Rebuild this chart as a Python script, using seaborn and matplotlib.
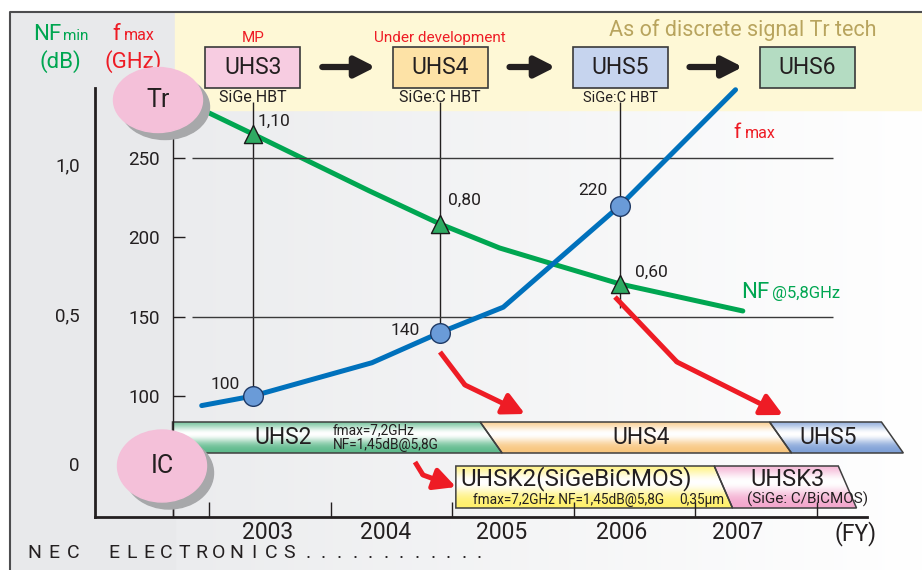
import numpy as np
import seaborn as sns
import matplotlib.pyplot as plt
import matplotlib.colors as mcolors
from matplotlib.patches import Ellipse, Rectangle, Polygon
from matplotlib.transforms import blended_transform_factory

# =========================
# DATA
# =========================
fmax_year = [2002.94, 2003.36, 2004.34, 2004.90, 2005.42, 2006.38, 2007.33]
fmax_ghz = [94, 100, 121, 140, 156, 220, 293]
nf_year = [2002.95, 2003.36, 2004.32, 2004.90, 2005.39, 2005.80, 2006.38, 2007.39]
nf_db = [1.18, 1.10, 0.91, 0.80, 0.72, 0.67, 0.60, 0.51]

point_year = [2003.36, 2004.90, 2006.38]
point_fmax = [100, 140, 220]
point_nf = [1.10, 0.80, 0.60]
point_fmax_txt = ['100', '140', '220']
point_nf_txt = ['1,10', '0,80', '0,60']

tr_names = ['UHS3', 'UHS4', 'UHS5', 'UHS6']
tr_year = [2003.36, 2004.90, 2006.38, 2007.92]
tr_status = ['MP', 'Under development', '', '']
tr_process = ['SiGe HBT', 'SiGe:C HBT', 'SiGe:C HBT', '']
tr_colors = ['#f7cce1', '#fde2a6', '#c6d4ee', '#b4dcc2']

ic1_names = ['UHS2', 'UHS4', 'UHS5']
ic1_edges = [2002.70, 2005.32, 2007.70, 2008.62]
ic1_colors = ['#5cb98a', '#f8c57c', '#7d9fd6']
ic2_names = ['UHSK2(SiGeBiCMOS)', 'UHSK3']
ic2_edges = [2005.03, 2007.23, 2008.25]
ic2_colors = ['#fff06a', '#f3a7cd']

fy_labels = ['2003', '2004', '2005', '2006', '2007', '(FY)']
fmax_ticks = [100, 150, 200, 250]
nf_ticks = [0, 0.5, 1.0]
nf_tick_labels = ['0', '0,5', '1,0']

# =========================
# STYLE
# =========================
sns.set_theme(style="white")
plt.rcParams['font.family'] = ['Roboto', 'DejaVu Sans']

GREEN = '#00a651'
RED = '#ee1c25'
BLUE = '#0071bc'
DARK = '#231f20'

W, H = 922, 570
PX_PER_YEAR = 121.6
X0_PX, X0_YEAR = 209, 2003.0


def year_of(px):
    return X0_YEAR + (px - X0_PX) / PX_PER_YEAR


def px_rect(l, t, r, b):
    return [l / W, 1 - b / H, (r - l) / W, (b - t) / H]


fig = plt.figure(figsize=(W / 100, H / 100), dpi=100)

# background / decoration layer in pixel coords
bg = fig.add_axes([0, 0, 1, 1], zorder=0)
bg.set_xlim(0, W)
bg.set_ylim(H, 0)
bg.set_autoscale_on(False)
bg.axis('off')

# data axes: NF (left, outer) and fmax (inner)
ax = fig.add_axes(px_rect(95, 88, 867, 517), zorder=1)
ax.set_xlim(year_of(95), year_of(867))
ax.set_ylim(-0.1767, 1.2533)
ax.patch.set_visible(False)
ax_f = ax.twinx()
ax_f.set_zorder(2)
ax_f.set_ylim(23.8, 294.1)
ax_f.patch.set_visible(False)

fg = fig.add_axes([0, 0, 1, 1], zorder=3)
fg.set_xlim(0, W)
fg.set_ylim(H, 0)
fg.set_autoscale_on(False)
fg.axis('off')
fg.patch.set_visible(False)

bx = blended_transform_factory(ax.transData, bg.transData)

# =========================
# Background
# =========================
g = np.linspace(0, 1, 256)[None, :, None]
c0 = np.array(mcolors.to_rgb('#ebecee'))
bg.imshow(c0 * (1 - g) + g, extent=(175, W, H, 110), aspect='auto', zorder=0)
bg.add_patch(Rectangle((10, 12), 165, H - 12, color='#e8e9eb', zorder=0.5))
bg.add_patch(Rectangle((175, 12), W - 175, 98, color='#fef8d6', zorder=0.6))
bg.plot([10, 10, W], [H, 12, 12], color='#4d4d4f', lw=1.5, zorder=1)

# axis titles
bg.text(33, 40, 'NF', color=GREEN, fontsize=16, va='baseline')
bg.text(63, 40, 'min', color=GREEN, fontsize=11, va='baseline')
bg.text(60, 62, '(dB)', color=GREEN, fontsize=16, ha='center', va='center')
bg.text(112, 40, 'f', color=RED, fontsize=16, va='baseline')
bg.text(124, 40, 'max', color=RED, fontsize=11.5, va='baseline')
bg.text(133, 62, '(GHz)', color=RED, fontsize=16, ha='center', va='center')
bg.text(743, 30, 'As of discrete signal Tr tech', color='#b8a45e', fontsize=15.5,
        ha='center', va='center')

# =========================
# Tr generation boxes
# =========================
box_w = 95 / PX_PER_YEAR
for i, (name, yr, st, proc, col) in enumerate(zip(tr_names, tr_year, tr_status, tr_process, tr_colors)):
    bg.add_patch(Rectangle((yr - box_w / 2, 47), box_w, 41, facecolor=col, edgecolor='#3a3a3a',
                           lw=1.2, transform=bx, zorder=3, clip_on=False))
    bg.text(yr, 68, name, transform=bx, ha='center', va='center', fontsize=16.5, color=DARK, zorder=4)
    if st:
        bg.text(yr, 38, st, transform=bx, ha='center', va='center', fontsize=11, color=RED, zorder=4)
    if proc:
        bg.text(yr, 98, proc, transform=bx, ha='center', va='center',
                fontsize=11.5 if i < 2 else 10.5, color=DARK, zorder=4)
    if i < len(tr_names) - 1:
        start = yr + box_w / 2 + 22 / PX_PER_YEAR
        end = tr_year[i + 1] - box_w / 2 - 17 / PX_PER_YEAR
        bg.annotate('', xy=(end, 67), xytext=(start, 67), xycoords=bx, textcoords=bx,
                    arrowprops=dict(arrowstyle='-|>,head_length=0.55,head_width=0.28', lw=4.5,
                                    color=DARK, mutation_scale=22, shrinkA=0, shrinkB=0),
                    zorder=4)


# =========================
# IC roadmap bars
# =========================
def grad_bar(verts, color):
    poly = Polygon(verts, closed=True, facecolor='none', edgecolor='#3f3f3f', lw=1.1,
                   transform=bx, zorder=3.2, clip_on=False)
    bg.add_patch(poly)
    c = np.array(mcolors.to_rgb(color))
    t = np.linspace(0, 1, 64)[:, None, None]
    w = np.exp(-((t - 0.38) / 0.3) ** 2)
    img = w * 1.0 + (1 - w) * c
    xs = [v[0] for v in verts]
    ys = [v[1] for v in verts]
    im = bg.imshow(img, extent=(min(xs), max(xs), max(ys), min(ys)), transform=bx,
                   aspect='auto', zorder=3, interpolation='bilinear')
    im.set_clip_path(poly)


def draw_row(edges, colors, top, bot, slant):
    for i, col in enumerate(colors):
        x0, x1 = edges[i], edges[i + 1]
        l_top = x0 if i == 0 else x0 - slant
        l_bot = x0 if i == 0 else x0 + slant
        grad_bar([(l_top, top), (x1 - slant, top), (x1 + slant, bot), (l_bot, bot)], col)


draw_row(ic1_edges, ic1_colors, 422, 453, 0.09)
draw_row(ic2_edges, ic2_colors, 466, 508, 0.075)

bg.text(283, 437, ic1_names[0], ha='center', va='center', fontsize=16.5, color=DARK, zorder=5)
bg.text(333, 430, 'fmax=7,2GHz', ha='left', va='center', fontsize=9.8, color=DARK, zorder=5)
bg.text(333, 445, 'NF=1,45dB@5,8G', ha='left', va='center', fontsize=9.8, color=DARK, zorder=5)
bg.text(641, 437, ic1_names[1], ha='center', va='center', fontsize=16.5, color=DARK, zorder=5)
bg.text(828, 437, ic1_names[2], ha='center', va='center', fontsize=16.5, color=DARK, zorder=5)
bg.text(576, 479, ic2_names[0], ha='center', va='center', fontsize=17.5, color=DARK, zorder=5)
bg.text(473, 500, 'fmax=7,2GHz NF=1,45dB@5,8G', ha='left', va='center', fontsize=9.8,
        color=DARK, zorder=5)
bg.text(679, 500, '0,35μm', ha='left', va='center', fontsize=9.8, color=DARK, zorder=5)
bg.text(787, 479, ic2_names[1], ha='center', va='center', fontsize=17, color=DARK, zorder=5)
bg.text(808, 499, '(SiGe: C/BiCMOS)', ha='center', va='center', fontsize=11, color=DARK, zorder=5)

# =========================
# Data lines
# =========================
def to_nf(f):
    return np.interp(f, ax_f.get_ylim(), ax.get_ylim())


ax_f.hlines([150, 250], year_of(192), year_of(833), color='#3a3a3a', lw=1, zorder=1)
ax.vlines(point_year, [to_nf(100), to_nf(140), 0.52], to_nf(285), color=DARK, lw=1, zorder=1)

sns.lineplot(x=nf_year, y=nf_db, ax=ax, color=GREEN, linewidth=3.6, legend=False,
             zorder=2, clip_on=False)
sns.scatterplot(x=point_year, y=point_nf, ax=ax, marker='^', s=170, color='#2eaa62',
                edgecolor='#1a1a1a', linewidth=1, legend=False, zorder=4, clip_on=False)
sns.lineplot(x=fmax_year, y=fmax_ghz, ax=ax_f, color=BLUE, linewidth=3.6, legend=False,
             zorder=2, clip_on=False)
sns.scatterplot(x=point_year, y=point_fmax, ax=ax_f, marker='o', s=200, color='#6a9bd8',
                edgecolor='#1f3a66', linewidth=1, legend=False, zorder=4, clip_on=False)

for x, v, t, off in zip(point_year, point_nf, point_nf_txt, [(5, 13), (8, 24), (15, 12)]):
    ax.annotate(t, (x, v), xytext=off, textcoords='offset pixels', ha='left', va='center',
                fontsize=12.5, color=DARK)
for x, v, t, off in zip(point_year, point_fmax, point_fmax_txt, [(-13, 12), (-20, 2), (-13, 15)]):
    ax_f.annotate(t, (x, v), xytext=off, textcoords='offset pixels', ha='right', va='center',
                  fontsize=12.5, color=DARK)

fg.text(733, 138, 'f', color=RED, fontsize=15, va='baseline')
fg.text(745, 138, 'max', color=RED, fontsize=11.5, va='baseline')
fg.text(741, 298, 'NF', color=GREEN, fontsize=16, va='baseline')
fg.text(772, 298, '@5,8GHz', color=GREEN, fontsize=12, va='baseline')

# =========================
# Axes styling
# =========================
for s in ['top', 'right']:
    ax.spines[s].set_visible(False)
for s in ['left', 'bottom']:
    ax.spines[s].set_linewidth(2)
    ax.spines[s].set_color(DARK)
for s in ['top', 'right', 'bottom']:
    ax_f.spines[s].set_visible(False)
ax_f.spines['left'].set_position(('data', 2002.70))
ax_f.spines['left'].set_linewidth(1)
ax_f.spines['left'].set_color(DARK)
ax_f.spines['left'].set_bounds(23.8, 280)

ax.set_yticks(nf_ticks, labels=nf_tick_labels)
ax.tick_params(axis='y', which='major', left=True, length=0, pad=11, labelsize=13.5,
               labelcolor=DARK)
ax.yaxis.tick_left()

ax_f.yaxis.tick_left()
ax_f.yaxis.set_label_position('left')
ax_f.set_yticks(fmax_ticks, labels=[str(v) for v in fmax_ticks])
ax_f.tick_params(axis='y', which='major', direction='in', length=8.6, width=1, color=DARK,
                 pad=9, labelsize=13.5, labelcolor=DARK, left=True, labelleft=True,
                 right=False, labelright=False)

label_pos = [2003.48, 2004.45, 2005.41, 2006.39, 2007.35, year_of(856)]
ax.set_xticks(label_pos, labels=fy_labels)
ax.set_xticks([2002.70, 2003, 2004, 2005, 2006, 2007, 2008], minor=True)
ax.tick_params(axis='x', which='major', length=0, pad=3, labelsize=16.5, labelcolor=DARK)
ax.tick_params(axis='x', which='minor', direction='in', length=10.8, width=1, color=DARK,
               bottom=True)
ax.set_xlabel('')
ax.set_ylabel('')
ax_f.set_ylabel('')

# =========================
# Foreground: ellipses, red arrows, footer
# =========================
for cx, cy, h, lab in [(158, 100, 65, 'Tr'), (162, 466, 72, 'IC')]:
    fg.add_patch(Ellipse((cx + 7, cy + 7), 89, h, color='#a7a8aa', zorder=1))
    fg.add_patch(Ellipse((cx, cy), 89, h, color='#f4c0d9', zorder=2))
    fg.text(cx, cy, lab, ha='center', va='center', fontsize=18, color=DARK, zorder=3)

for pts in [[(440, 352), (465, 385), (525, 414)],
            [(615, 297), (677, 362), (783, 415)],
            [(415, 462), (423, 475), (456, 487)]]:
    xs, ys = zip(*pts[:2])
    fg.plot(xs, ys, color=RED, lw=3.6, solid_capstyle='butt', zorder=4)
    fg.annotate('', xy=pts[2], xytext=pts[1],
                arrowprops=dict(arrowstyle='-|>,head_length=0.65,head_width=0.33', lw=3.6,
                                color=RED, mutation_scale=20, shrinkA=0, shrinkB=0),
                zorder=4)

for i, ch in enumerate('NEC'):
    bg.text(34 + i * 19.5, 553, ch, ha='center', va='center', fontsize=14, color=DARK)
for i, ch in enumerate('ELECTRONICS'):
    bg.text(114 + i * 17.5, 553, ch, ha='center', va='center', fontsize=14, color=DARK)
for i in range(12):
    bg.text(308 + i * 15.6, 553, '.', ha='center', va='center', fontsize=14, color=DARK)

fig.savefig('out.png', dpi=100)
